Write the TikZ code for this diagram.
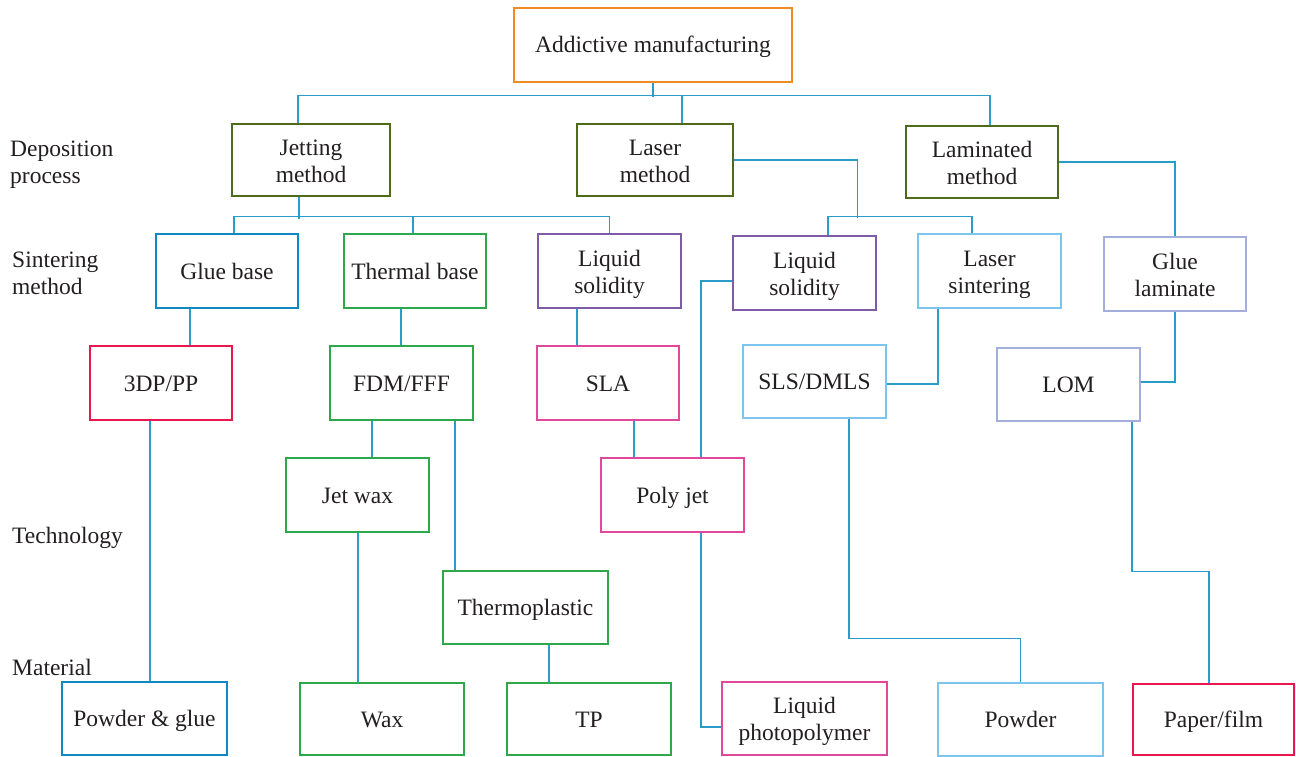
\documentclass[tikz,border=0pt]{standalone}
\usepackage{fontspec}
\setmainfont{Liberation Serif}
\definecolor{corange}{HTML}{F08A24}
\definecolor{colive}{HTML}{4E6B1C}
\definecolor{cblue}{HTML}{1287C0}
\definecolor{cgreen}{HTML}{2EA84A}
\definecolor{cpurple}{HTML}{7D5BA6}
\definecolor{clight}{HTML}{7CC6EE}
\definecolor{clav}{HTML}{A3AEDC}
\definecolor{ccrim}{HTML}{E8184E}
\definecolor{cpink}{HTML}{E0489C}
\definecolor{lc}{HTML}{2B9BCB}
\definecolor{txt}{HTML}{231F20}
\newcommand{\fs}{\fontsize{23.5}{27}\selectfont}
\tikzset{
  box/.style={draw=#1, line width=2.6pt, fill=white, inner sep=0pt, align=center, text=txt, font=\fs,
    text height=19pt, text depth=3pt},
  two/.style={text height=46pt, text depth=1.4pt},
  conn/.style={draw=lc, line width=1.4pt},
  lab/.style={anchor=west, align=left, inner sep=0pt, text=txt, font=\fs},
}
\begin{document}
\begin{tikzpicture}[x=1pt,y=-1pt]
\useasboundingbox (0,0) rectangle (1296,757);
% labels
\node[lab] (l1) at (10,165) {Deposition\\process};
\node[lab] (l2) at (12,273) {Sintering\\method};
\node[lab] (l3) at (12,538) {Technology};
\node[lab] (l4) at (12,667) {Material};
\coordinate (bus) at (0,97);
% nodes
\node[box=corange, minimum width=278, minimum height=74] (root) at (653,45) {Addictive manufacturing};
\node[box=colive, two, minimum width=158, minimum height=72] (jet) at (311,160) {Jetting\\method};
\node[box=colive, two, minimum width=156, minimum height=72] (las) at (655,160) {Laser\\method};
\node[box=colive, two, minimum width=152, minimum height=72] (lam) at (982,162) {Laminated\\method};
\node[box=cblue, minimum width=142, minimum height=74] (glue) at (227,271) {Glue base};
\node[box=cgreen, minimum width=142, minimum height=74] (therm) at (415,271) {Thermal base};
\node[box=cpurple, two, minimum width=143, minimum height=74] (liq1) at (609.5,271) {Liquid\\solidity};
\node[box=cpurple, two, minimum width=143, minimum height=74] (liq2) at (804.5,273) {Liquid\\solidity};
\node[box=clight, two, minimum width=143, minimum height=74] (lsint) at (989.5,271) {Laser\\sintering};
\node[box=clav, two, minimum width=142, minimum height=74] (gluelam) at (1175,274) {Glue\\laminate};
\node[box=ccrim, minimum width=142, minimum height=74] (tdp) at (161,383) {3DP/PP};
\node[box=cgreen, minimum width=143, minimum height=74] (fdm) at (401.5,383) {FDM/FFF};
\node[box=cpink, minimum width=142, minimum height=74] (sla) at (608,383) {SLA};
\node[box=clight, minimum width=143, minimum height=73] (sls) at (814.5,381.5) {SLS/DMLS};
\node[box=clav, minimum width=143, minimum height=73] (lom) at (1068.5,384.5) {LOM};
\node[box=cgreen, minimum width=143, minimum height=74] (jetwax) at (357.5,495) {Jet wax};
\node[box=cpink, minimum width=143, minimum height=74] (poly) at (672.5,495) {Poly jet};
\node[box=cgreen, minimum width=165, minimum height=73] (thermo) at (525.5,607.5) {Thermoplastic};
\node[box=cblue, minimum width=165, minimum height=73] (pg) at (144.5,718.5) {Powder \& glue};
\node[box=cgreen, minimum width=164, minimum height=72] (wax) at (382,719) {Wax};
\node[box=cgreen, minimum width=164, minimum height=72] (tp) at (589,719) {TP};
\node[box=cpink, two, minimum width=165, minimum height=73] (lp) at (804.5,718.5) {Liquid\\photopolymer};
\node[box=clight, minimum width=165, minimum height=73] (powder) at (1020.5,719.5) {Powder};
\node[box=ccrim, minimum width=161, minimum height=71] (paper) at (1213.5,719.5) {Paper/film};
% connectors
\draw[conn] (root.south) -- (root.south |- bus);
\draw[conn] ([xshift=-13]jet.north) -- ++(0,-27) -| ([xshift=8]lam.north);
\draw[conn] ([xshift=27]las.north) -- ++(0,-27);
\draw[conn] ([xshift=-12]jet.south) -- ++(0,22);
\draw[conn] ([xshift=7]glue.north) -- ++(0,-16) -| (liq1.north);
\draw[conn] ([xshift=-2]therm.north) -- ++(0,-16);
\draw[conn] (las.east) -- ++(123,0) -- ++(0,58);
\draw[conn] ([xshift=23.5]liq2.north) -- ++(0,-18) -| ([xshift=-17.5]lsint.north);
\draw[conn] (lam.east) -| (gluelam.north);
\draw[conn] ([xshift=-37]glue.south) -- ([xshift=29]tdp.north);
\draw[conn] ([xshift=-14]therm.south) -- ([xshift=-0.5]fdm.north);
\draw[conn] ([xshift=-32.5]liq1.south) -- ([xshift=-31]sla.north);
\draw[conn] ([yshift=-2.5]sls.east) -| ([xshift=-51.5]lsint.south);
\draw[conn] ([yshift=2.5]lom.east) -| (gluelam.south);
\draw[conn] ([xshift=-29.5]fdm.south) -- ([xshift=14.5]jetwax.north);
\draw[conn] ([xshift=53.5]fdm.south) -- ([xshift=-70.5]thermo.north);
\draw[conn] ([xshift=26]sla.south) -- ([xshift=-38.5]poly.north);
\draw[conn] ([yshift=-8]liq2.west) -| ([xshift=28.5]poly.north);
\draw[conn] ([xshift=-11]tdp.south) -- ([xshift=5.5]pg.north);
\draw[conn] ([xshift=0.5]jetwax.south) -- ([xshift=-24]wax.north);
\draw[conn] ([xshift=23.5]thermo.south) -- ([xshift=-40]tp.north);
\draw[conn] ([xshift=28.5]poly.south) |- ([yshift=-8.5]lp.west);
\draw[conn] ([xshift=34.5]sls.south) -- ++(0,219) -| (powder.north);
\draw[conn] ([xshift=63.5]lom.south) -- ++(0,149) -| ([xshift=-4.5]paper.north);
\end{tikzpicture}
\end{document}
